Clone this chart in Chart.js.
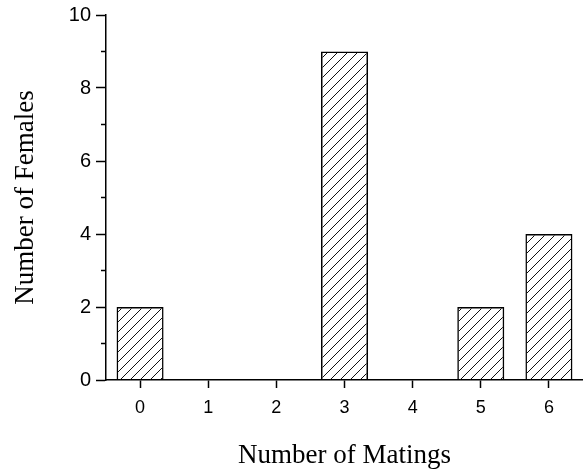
<!DOCTYPE html>
<html>
<head>
<meta charset="utf-8">
<script src="https://cdn.jsdelivr.net/npm/chart.js@4"></script>
<style>
  html, body { margin: 0; padding: 0; background: #fff; }
  #wrap { width: 583px; height: 469px; }
</style>
</head>
<body>
<div id="wrap"><canvas id="chart" width="583" height="469"></canvas></div>
<script>
// data
const matings = ["0", "1", "2", "3", "4", "5", "6"];
const females = [2, 0, 0, 9, 0, 2, 4];
const yMajor = [0, 2, 4, 6, 8, 10];

function hatch() {
  const c = document.createElement("canvas");
  c.width = 10; c.height = 10;
  const g = c.getContext("2d");
  g.strokeStyle = "#111";
  g.lineWidth = 1;
  g.beginPath();
  g.moveTo(0, 10); g.lineTo(10, 0);
  g.moveTo(-2, 2); g.lineTo(2, -2);
  g.moveTo(8, 12); g.lineTo(12, 8);
  g.stroke();
  return g.createPattern(c, "repeat");
}

// short ticks between the labelled ones
const minorTicks = {
  id: "minorTicks",
  afterDraw(chart) {
    const y = chart.scales.y;
    const ctx = chart.ctx;
    ctx.save();
    ctx.strokeStyle = "#000";
    ctx.lineWidth = 1.5;
    y.ticks.forEach(t => {
      if (yMajor.includes(t.value)) return;
      const py = y.getPixelForValue(t.value);
      ctx.beginPath();
      ctx.moveTo(y.right - 5, py);
      ctx.lineTo(y.right, py);
      ctx.stroke();
    });
    ctx.restore();
  }
};

const sans = "'Liberation Sans', Arial, sans-serif";
const titleFont = { family: "'Liberation Serif', 'Times New Roman', serif", size: 27, lineHeight: 1 };

new Chart(document.getElementById("chart"), {
  type: "bar",
  data: {
    labels: matings,
    datasets: [{
      data: females,
      backgroundColor: hatch(),
      borderColor: "#000",
      borderWidth: 1.5,
      barPercentage: 0.69,
      categoryPercentage: 1
    }]
  },
  options: {
    responsive: false,
    animation: false,
    layout: { padding: { top: 15, right: 0, left: 0, bottom: 0 } },
    plugins: { legend: { display: false }, tooltip: { enabled: false } },
    scales: {
      x: {
        offset: true,
        afterFit: s => { s.height = 89; },
        grid: { drawOnChartArea: false, tickLength: 8, tickColor: "#000", tickWidth: 1.5, offset: false },
        border: { color: "#000", width: 1.5 },
        ticks: { color: "#000", font: { family: sans, size: 18 }, padding: 9 },
        title: { display: true, text: "Number of Matings", color: "#000", font: titleFont, padding: { top: 0, bottom: 0 } }
      },
      y: {
        min: 0,
        max: 10,
        afterFit: s => { s.width = 106; },
        grid: {
          drawOnChartArea: false,
          tickLength: 10,
          tickWidth: 1.5,
          tickColor: c => yMajor.includes(c.tick.value) ? "#000" : "rgba(0,0,0,0)"
        },
        border: { color: "#000", width: 1.5 },
        ticks: {
          stepSize: 1,
          autoSkip: false,
          color: "#000",
          font: { family: sans, size: 20, lineHeight: 1 },
          padding: 5,
          callback: v => yMajor.includes(v) ? String(v) : ""
        },
        title: { display: true, text: "Number of Females", color: "#000", font: titleFont, padding: { top: 12, bottom: 0 } }
      }
    }
  },
  plugins: [minorTicks]
});
</script>
</body>
</html>
